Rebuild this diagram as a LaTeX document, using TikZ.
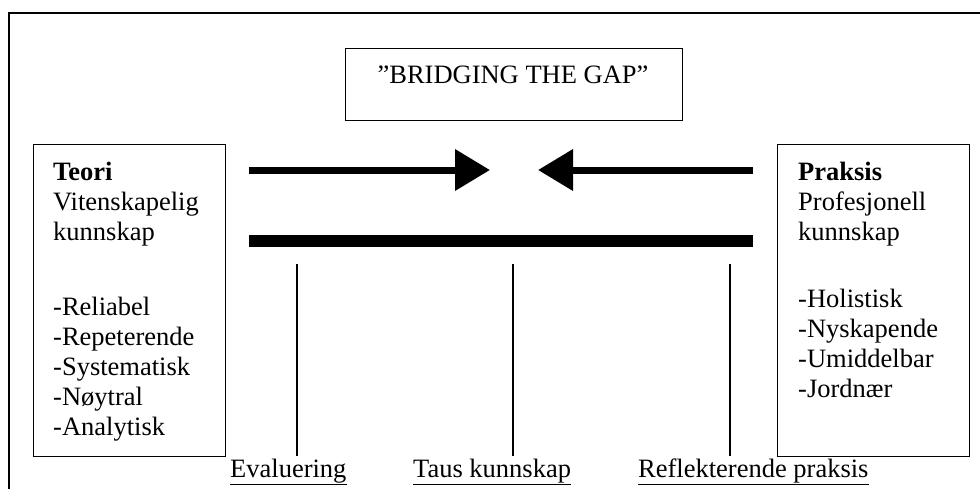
\documentclass[tikz,border=0pt]{standalone}
\usepackage{fontspec}
\setmainfont{Liberation Serif}
\usetikzlibrary{arrows.meta}

\tikzset{
    frame/.style = {draw, line width = 1.2pt},
    box/.style = {draw, line width = 1.2pt, anchor = north west, inner sep = 0pt},
    txt/.style = {anchor = base west, inner sep = 0pt},
    bigarrow/.style = {line width = 7pt, -{Triangle[length = 35pt, width = 40pt]}},
    bar/.style = {line width = 12pt},
    tick/.style = {line width = 1.2pt},
    understrek/.style = {line width = 1.3pt}
}

\begin{document}
\begin{tikzpicture}[x = 1pt, y = -1pt, font = \fontsize{26.5pt}{30pt}\selectfont]
        \useasboundingbox (0, 0) rectangle (980, 488);
        \clip (0, 0) rectangle (980, 488);
        \draw[frame] (9, 13) rectangle (1000, 520);
        % title
        \node[box, minimum width = 337pt, minimum height = 72pt] (gapbox) at (345, 48) {};
        \node[anchor = base, inner sep = 0pt] (gap) at (513, 83) {”BRIDGING THE GAP”};
        % theory
        \node[box, minimum width = 192pt, minimum height = 312pt] (teoribox) at (33, 144) {};
        \node[txt] (teori) at (53, 180) {\textbf{Teori}};
        \node[txt] (teori2) at (53, 210) {Vitenskapelig};
        \node[txt] (teori3) at (53, 240) {kunnskap};
        \foreach \t [count = \i] in {Reliabel, Repeterende, Systematisk, Nøytral, Analytisk}{
            \node[txt] (teoripkt\i) at (53, 285 + 30 * \i) {-\t};
        }
        % practice
        \node[box, minimum width = 192pt, minimum height = 312pt] (praksisbox) at (777, 144) {};
        \node[txt] (praksis) at (798, 180) {\textbf{Praksis}};
        \node[txt] (praksis2) at (798, 210) {Profesjonell};
        \node[txt] (praksis3) at (798, 240) {kunnskap};
        \foreach \t [count = \i] in {Holistisk, Nyskapende, Umiddelbar, Jordnær}{
            \node[txt] (praksispkt\i) at (798, 277 + 30 * \i) {-\t};
        }
        % arrows and bridge
        \coordinate (venstre) at (249, 170);
        \coordinate (venstrespiss) at (490, 170);
        \coordinate (hoyre) at (753, 170);
        \coordinate (hoyrespiss) at (538, 170);
        \draw[bigarrow] (venstre) -- (venstrespiss);
        \draw[bigarrow] (hoyre) -- (hoyrespiss);
        \coordinate (bro1) at (249, 241);
        \coordinate (bro2) at (753, 241);
        \draw[bar] (bro1) -- (bro2);
        % labels
        \node[txt] (eval) at (230, 477) {Evaluering};
        \node[txt] (taus) at (413, 477) {Taus kunnskap};
        \node[txt] (refl) at (638, 477) {Reflekterende praksis};
        \foreach \x/\n in {297/eval, 513/taus, 730/refl}{
            \coordinate (\n top) at (\x, 264);
            \coordinate (\n bunn) at (\x, 456);
            \draw[tick] (\n top) -- (\n bunn);
            \draw[understrek] ([yshift = -1.5pt]\n.south west) -- ([yshift = -1.5pt]\n.south east);
        }
    \end{tikzpicture}
\end{document}
